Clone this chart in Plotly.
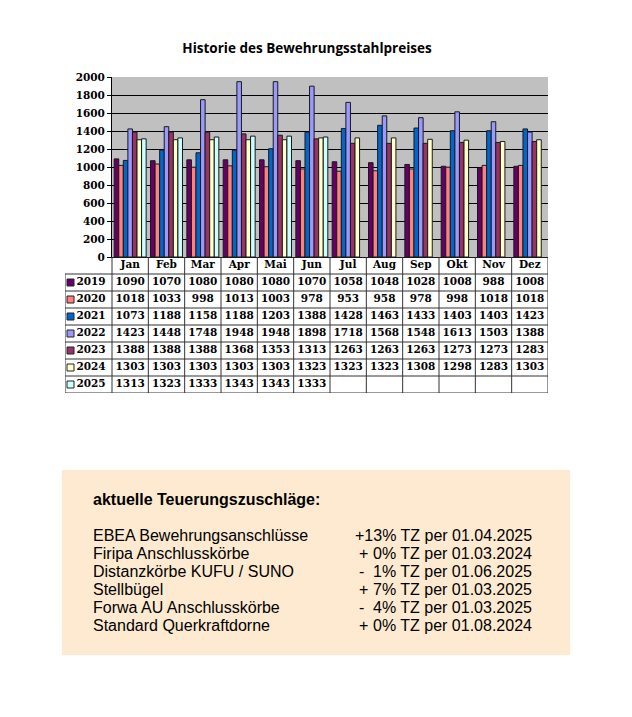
import plotly.graph_objects as go

months = ["Jan", "Feb", "Mar", "Apr", "Mai", "Jun", "Jul", "Aug", "Sep", "Okt", "Nov", "Dez"]
years = ["2019", "2020", "2021", "2022", "2023", "2024", "2025"]
v2019 = [1090, 1070, 1080, 1080, 1080, 1070, 1058, 1048, 1028, 1008, 988, 1008]
v2020 = [1018, 1033, 998, 1013, 1003, 978, 953, 958, 978, 998, 1018, 1018]
v2021 = [1073, 1188, 1158, 1188, 1203, 1388, 1428, 1463, 1433, 1403, 1403, 1423]
v2022 = [1423, 1448, 1748, 1948, 1948, 1898, 1718, 1568, 1548, 1613, 1503, 1388]
v2023 = [1388, 1388, 1388, 1368, 1353, 1313, 1263, 1263, 1263, 1273, 1273, 1283]
v2024 = [1303, 1303, 1303, 1303, 1303, 1323, 1323, 1323, 1308, 1298, 1283, 1303]
v2025 = [1313, 1323, 1333, 1343, 1343, 1333]
series = [v2019, v2020, v2021, v2022, v2023, v2024, v2025]
colors = ["#660066", "#FF8080", "#0066CC", "#9999FF", "#993366", "#FFFFCC", "#CCFFFF"]

y_ticks = [0, 200, 400, 600, 800, 1000, 1200, 1400, 1600, 1800, 2000]

surcharge_items = ["EBEA Bewehrungsanschlüsse", "Firipa Anschlusskörbe", "Distanzkörbe KUFU / SUNO",
                   "Stellbügel", "Forwa AU Anschlusskörbe", "Standard Querkraftdorne"]
surcharge_sign = ["+", "+", "-", "+", "-", "+"]
surcharge_pct = ["13%", "0%", "1%", "7%", "4%", "0%"]
surcharge_date = ["01.04.2025", "01.03.2024", "01.06.2025", "01.03.2025", "01.03.2025", "01.08.2024"]

# page body has an 8px margin -> figure placed at (8, 8)
OFF = 8
W, H = 632 - 2 * OFF, 717 - 2 * OFF
PL, PR, PT, PB = 65, 548, 77, 393  # plot-area edges in page pixels
ML, MR, MT, MB = PL - OFF, OFF + W - PR, PT - OFF, OFF + H - PB
PW = PR - PL
PH = PB - PT


def fx(px):
    return (px - PL) / PW


def fy(py):
    return (PB - py) / PH


serif = "DejaVu Serif"
sans = "Liberation Sans"
GRID = "#333333"

fig = go.Figure()
for yr, vals, c in zip(years, series, colors):
    fig.add_trace(go.Bar(
        x=months[:len(vals)], y=vals, name=yr,
        marker=dict(color=c, line=dict(color="#1a1a1a", width=1)),
        showlegend=False, xaxis="x", yaxis="y",
    ))

# ---- data table drawn on a second (hidden) axis pair ----
CW = (PR - 112) / len(months)           # px per month column
LEG_UNITS = (112 - PL) / CW             # legend column width in month units
X_LEFT = -0.5 - LEG_UNITS
n_rows = len(years) + 1

# header (month names)
fig.add_trace(go.Scatter(
    x=list(range(len(months))), y=[0] * len(months), mode="text",
    text=["<b>%s</b>" % m for m in months], textposition="middle center",
    textfont=dict(family=serif, size=10.5, color="black"),
    xaxis="x2", yaxis="y2", showlegend=False, hoverinfo="skip"))

# values
for k, vals in enumerate(series):
    fig.add_trace(go.Scatter(
        x=list(range(len(vals))), y=[k + 1] * len(vals), mode="text",
        text=["<b>%d</b>" % v for v in vals], textposition="middle center",
        textfont=dict(family=serif, size=10.5, color="black"),
        xaxis="x2", yaxis="y2", showlegend=False, hoverinfo="skip"))

# legend column: swatches + years
year_x = (91 - 112) / CW - 0.5
sw_x = (70.5 - 112) / CW - 0.5
fig.add_trace(go.Scatter(
    x=[sw_x] * len(years), y=list(range(1, len(years) + 1)), mode="markers",
    marker=dict(symbol="square", size=7, color=colors, line=dict(color="#222222", width=1)),
    xaxis="x2", yaxis="y2", showlegend=False, hoverinfo="skip"))
fig.add_trace(go.Scatter(
    x=[year_x] * len(years), y=list(range(1, len(years) + 1)), mode="text",
    text=["<b>%s</b>" % y for y in years], textposition="middle center",
    textfont=dict(family=serif, size=10.5, color="black"),
    xaxis="x2", yaxis="y2", showlegend=False, hoverinfo="skip"))

shapes = []
# horizontal cell borders
for r in range(n_rows + 1):
    yv = r - 0.5
    x0 = -0.5 if r == 0 else X_LEFT
    shapes.append(dict(type="line", xref="x2", yref="y2", x0=x0, x1=len(months) - 0.5, y0=yv, y1=yv,
                       line=dict(color=GRID, width=1)))
# vertical cell borders
shapes.append(dict(type="line", xref="x2", yref="y2", x0=X_LEFT, x1=X_LEFT, y0=0.5, y1=n_rows - 0.5,
                   line=dict(color=GRID, width=1)))
for c in range(len(months) + 1):
    xv = c - 0.5
    shapes.append(dict(type="line", xref="x2", yref="y2", x0=xv, x1=xv, y0=-0.5, y1=n_rows - 0.5,
                       line=dict(color=GRID, width=1)))

# Surcharge box
shapes.append(dict(type="rect", xref="paper", yref="paper",
                   x0=fx(62), x1=fx(570), y0=fy(655), y1=fy(470),
                   fillcolor="#FDEAD0", line=dict(width=0), layer="below"))

anns = []
FS = 16
anns.append(dict(x=fx(91), y=fy(499), xref="paper", yref="paper", xanchor="left", yanchor="middle",
                 text="<b>aktuelle Teuerungszuschläge:</b>", showarrow=False,
                 font=dict(family=sans, size=FS, color="black")))
for k in range(len(surcharge_items)):
    yy = fy(535 + 18 * k)
    anns.append(dict(x=fx(91), y=yy, xref="paper", yref="paper", xanchor="left", yanchor="middle",
                     text=surcharge_items[k], showarrow=False, font=dict(family=sans, size=FS, color="black")))
    rest = surcharge_pct[k] + " TZ per " + surcharge_date[k]
    if len(surcharge_pct[k]) > 2:
        rest = surcharge_sign[k] + rest
    else:
        anns.append(dict(x=fx(357), y=yy, xref="paper", yref="paper", xanchor="left", yanchor="middle",
                         text=surcharge_sign[k], showarrow=False,
                         font=dict(family=sans, size=FS, color="black")))
    anns.append(dict(x=fx(534), y=yy, xref="paper", yref="paper", xanchor="right", yanchor="middle",
                     text=rest, showarrow=False, font=dict(family=sans, size=FS, color="black")))

fig.update_layout(
    width=W, height=H,
    margin=dict(l=ML, r=MR, t=MT, b=MB, pad=0),
    paper_bgcolor="white",
    plot_bgcolor="white",
    barmode="group", bargap=0.12, bargroupgap=0.0,
    title=dict(text="<b>Historie des Bewehrungsstahlpreises</b>", x=(307 - OFF) / W, xanchor="center",
               y=1 - (48 - OFF) / H, yanchor="middle", xref="container", yref="container",
               font=dict(family="Open Sans", size=13.5, color="black")),
    xaxis=dict(domain=[fx(112), 1], showticklabels=False, ticks="", showgrid=False,
               showline=True, linecolor="black", linewidth=1, anchor="y",
               categoryorder="array", categoryarray=months, fixedrange=True),
    yaxis=dict(domain=[fy(257), 1], range=[0, 2000], tickvals=y_ticks,
               ticktext=["<b>%d</b>" % t for t in y_ticks],
               tickfont=dict(family=serif, size=10.5, color="black"),
               ticks="outside", ticklen=4, tickcolor="black",
               showgrid=True, gridcolor="black", gridwidth=1,
               showline=True, linecolor="black", linewidth=1, zeroline=False, anchor="x"),
    xaxis2=dict(domain=[0, 1], range=[X_LEFT, len(months) - 0.5], visible=False, anchor="y2"),
    yaxis2=dict(domain=[0, fy(257)], range=[n_rows - 0.5, -0.5], visible=False, anchor="x2"),
    shapes=shapes,
    annotations=anns,
)
# grey chart background only behind the bar plot
fig.add_shape(type="rect", xref="x domain", yref="y domain", x0=0, x1=1, y0=0, y1=1,
              fillcolor="#C0C0C0", line=dict(width=0), layer="below")

fig.write_html("out.html")
